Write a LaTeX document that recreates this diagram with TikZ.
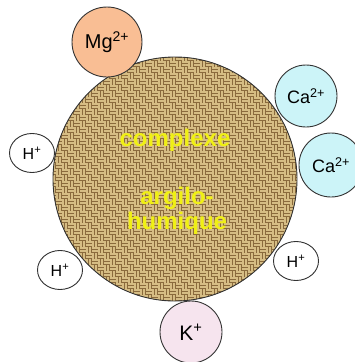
\documentclass[tikz,border=0pt]{standalone}
\usepackage{fontspec}
\setmainfont{Liberation Sans}
\usetikzlibrary{shapes.geometric}
\definecolor{mgfill}{RGB}{249,190,148}
\definecolor{cafill}{RGB}{204,244,248}
\definecolor{kfill}{RGB}{246,228,238}
\definecolor{burlapdark}{RGB}{138,106,60}
\definecolor{burlaplight}{RGB}{214,189,132}
\definecolor{txtyellow}{RGB}{240,240,20}
\definecolor{edge}{RGB}{50,50,50}
\begin{document}
\begin{tikzpicture}[x=1pt,y=-1pt,
  ion/.style={circle, draw=edge, line width=0.9pt, inner sep=0pt},
  hion/.style={ellipse, draw=edge, fill=white, line width=0.9pt, inner sep=0pt,
    minimum width=45pt, minimum height=39pt, font=\fontsize{16}{18}\selectfont},
  bigtext/.style={text=txtyellow, font=\bfseries\fontsize{24}{26}\selectfont, inner sep=0pt}]
\useasboundingbox (0,0) rectangle (355,362);
\begin{scope}
  \clip (175,179) circle (122);
  \fill[burlapdark] (50,55) rectangle (302,305);
  \foreach \i in {0,...,41} {
    \foreach \j in {0,...,41} {
      \ifodd\numexpr\i+\j\relax
        \fill[burlaplight] (50+6*\i+0.3, 55+6*\j+0.4) rectangle ++(5.4,2.0);
        \fill[burlaplight] (50+6*\i+0.3, 55+6*\j+3.4) rectangle ++(5.4,2.0);
      \else
        \fill[burlaplight] (50+6*\i+0.4, 55+6*\j+0.3) rectangle ++(2.0,5.4);
        \fill[burlaplight] (50+6*\i+3.4, 55+6*\j+0.3) rectangle ++(2.0,5.4);
      \fi
    }
  }
\end{scope}
\node[circle, draw=edge, line width=0.9pt, minimum size=244pt, inner sep=0pt] (complexe) at (175,179) {};
\node[bigtext] (t1) at (175,140) {complexe};
\node[bigtext] (t2) at (177,198) {argilo-};
\node[bigtext] (t3) at (177,223) {humique};
\node[ion, fill=mgfill, minimum size=70pt, font=\fontsize{20}{22}\selectfont] (mg) at (107,42) {Mg\textsuperscript{2+}};
\node[ion, fill=cafill, minimum size=62pt, font=\fontsize{18}{20}\selectfont] (ca1) at (306,96) {Ca\textsuperscript{2+}};
\node[ion, fill=cafill, minimum size=64pt, font=\fontsize{18}{20}\selectfont] (ca2) at (331,165) {Ca\textsuperscript{2+}};
\node[hion] (h1) at (32,153) {H\textsuperscript{+}};
\node[hion] (h2) at (60,270) {H\textsuperscript{+}};
\node[hion] (h3) at (296,261) {H\textsuperscript{+}};
\node[ion, fill=kfill, minimum size=62pt, font=\fontsize{21}{23}\selectfont] (k) at (191,332) {K\textsuperscript{+}};
\end{tikzpicture}
\end{document}
